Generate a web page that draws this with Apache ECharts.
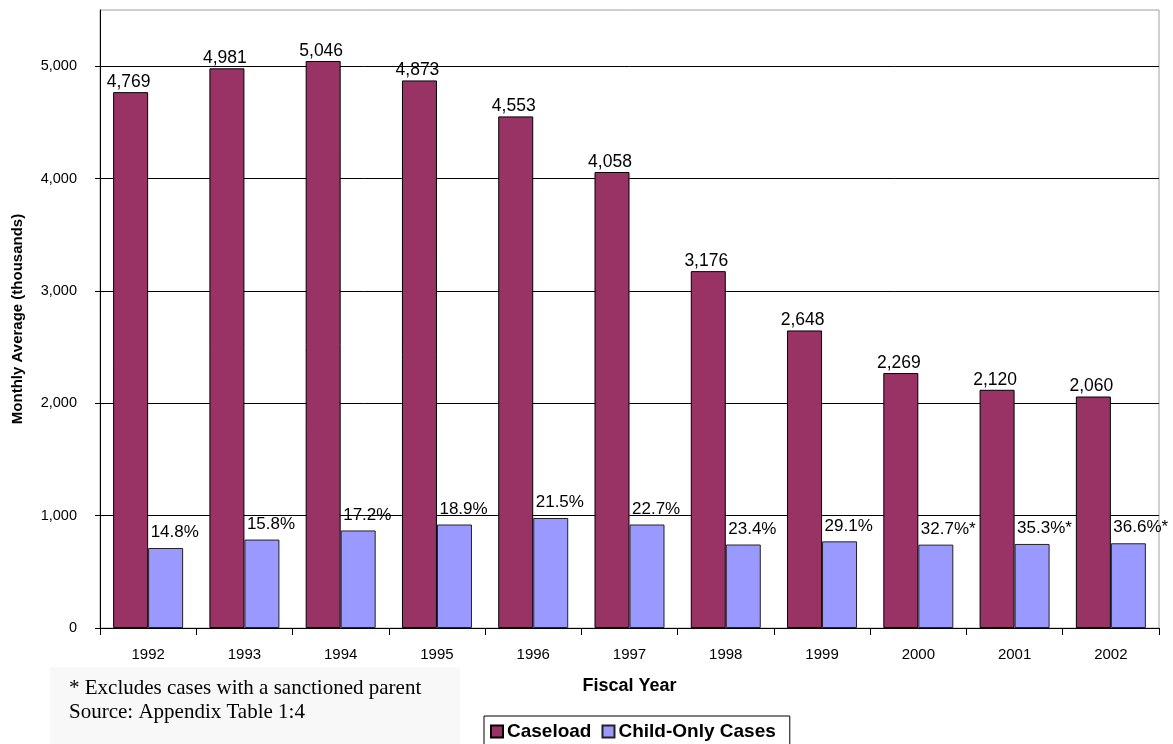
<!DOCTYPE html>
<html>
<head>
<meta charset="utf-8">
<script src="https://cdn.jsdelivr.net/npm/echarts@6/dist/echarts.min.js"></script>
<style>
  html, body { margin: 0; padding: 0; background: #fff; }
  #chart { width: 1173px; height: 744px; }
</style>
</head>
<body>
<div id="chart"></div>
<script>
// Fiscal years on the category axis
const years = ['1992', '1993', '1994', '1995', '1996', '1997', '1998', '1999', '2000', '2001', '2002'];
// Monthly average caseload (thousands)
const caseload = [4769, 4981, 5046, 4873, 4553, 4058, 3176, 2648, 2269, 2120, 2060];
// Monthly average child-only cases (thousands)
const childOnly = [712, 787, 868, 921, 979, 921, 743, 771, 742, 748, 754];
// Child-only share of the caseload, shown above the child-only bars
const childShare = ['14.8%', '15.8%', '17.2%', '18.9%', '21.5%', '22.7%', '23.4%', '29.1%', '32.7%*', '35.3%*', '36.6%*'];

const SANS = 'Liberation Sans, Arial, sans-serif';
const SERIF = 'Liberation Serif, Times New Roman, serif';

const chart = echarts.init(document.getElementById('chart'), null, { renderer: 'canvas' });

chart.setOption({
  animation: false,
  backgroundColor: '#ffffff',
  grid: {
    left: 100, right: 14, top: 10, bottom: 116,
    show: true, borderColor: '#a0a0a0', borderWidth: 1, backgroundColor: 'transparent'
  },
  legend: {
    left: 484, top: 716,
    padding: [6, 14, 30, 6],
    borderColor: '#000', borderWidth: 1,
    itemWidth: 12, itemHeight: 12, itemGap: 10,
    icon: 'rect',
    textStyle: { fontFamily: SANS, fontSize: 19, fontWeight: 'bold', color: '#000', padding: [0, 0, 0, -1] },
    data: ['Caseload', 'Child-Only Cases']
  },
  xAxis: {
    type: 'category',
    data: years,
    name: 'Fiscal Year',
    nameLocation: 'middle',
    nameGap: 49,
    nameTextStyle: { fontFamily: SANS, fontSize: 18, fontWeight: 'bold', color: '#000' },
    axisLine: { lineStyle: { color: '#000', width: 1 } },
    axisTick: { show: true, length: 7, lineStyle: { color: '#000' } },
    axisLabel: { fontFamily: SANS, fontSize: 15, color: '#000', margin: 19 }
  },
  yAxis: {
    type: 'value',
    min: 0, max: 5500, interval: 1000,
    name: 'Monthly Average (thousands)',
    nameLocation: 'middle',
    nameGap: 75,
    nameTextStyle: { fontFamily: SANS, fontSize: 15, fontWeight: 'bold', color: '#000' },
    axisLine: { show: true, lineStyle: { color: '#000', width: 1 } },
    axisTick: { show: true, length: 5, lineStyle: { color: '#000' } },
    axisLabel: {
      fontFamily: SANS, fontSize: 14.5, color: '#000', margin: 23,
      showMaxLabel: false,
      formatter: v => v.toLocaleString('en-US')
    },
    splitLine: { show: true, showMaxLine: false, lineStyle: { color: '#000', width: 1 } }
  },
  series: [
    {
      name: 'Caseload',
      type: 'bar',
      data: caseload,
      barWidth: 35,
      barGap: '0%',
      itemStyle: { color: '#993366', borderColor: '#000', borderWidth: 1 },
      label: {
        show: true, position: 'top', distance: 1, offset: [-2, 0],
        fontFamily: SANS, fontSize: 17.5, color: '#000',
        formatter: p => p.value.toLocaleString('en-US')
      }
    },
    {
      name: 'Child-Only Cases',
      type: 'bar',
      data: childOnly,
      barWidth: 35,
      itemStyle: { color: '#9999ff', borderColor: '#222', borderWidth: 1 },
      label: {
        show: true, position: 'top', distance: 5,
        align: 'left', offset: [-15, -2],
        fontFamily: SANS, fontSize: 17, color: '#000',
        formatter: p => childShare[p.dataIndex]
      }
    }
  ],
  graphic: [
    {
      type: 'rect', z: -1, silent: true,
      shape: { x: 50, y: 667, width: 410, height: 80 },
      style: { fill: '#f8f8f8' }
    },
    {
      type: 'text', left: 69, top: 678,
      style: { text: '* Excludes cases with a sanctioned parent', font: '21px ' + SERIF, fill: '#000' }
    },
    {
      type: 'text', left: 69, top: 702,
      style: { text: 'Source: Appendix Table 1:4', font: '21px ' + SERIF, fill: '#000' }
    }
  ]
});
</script>
</body>
</html>
